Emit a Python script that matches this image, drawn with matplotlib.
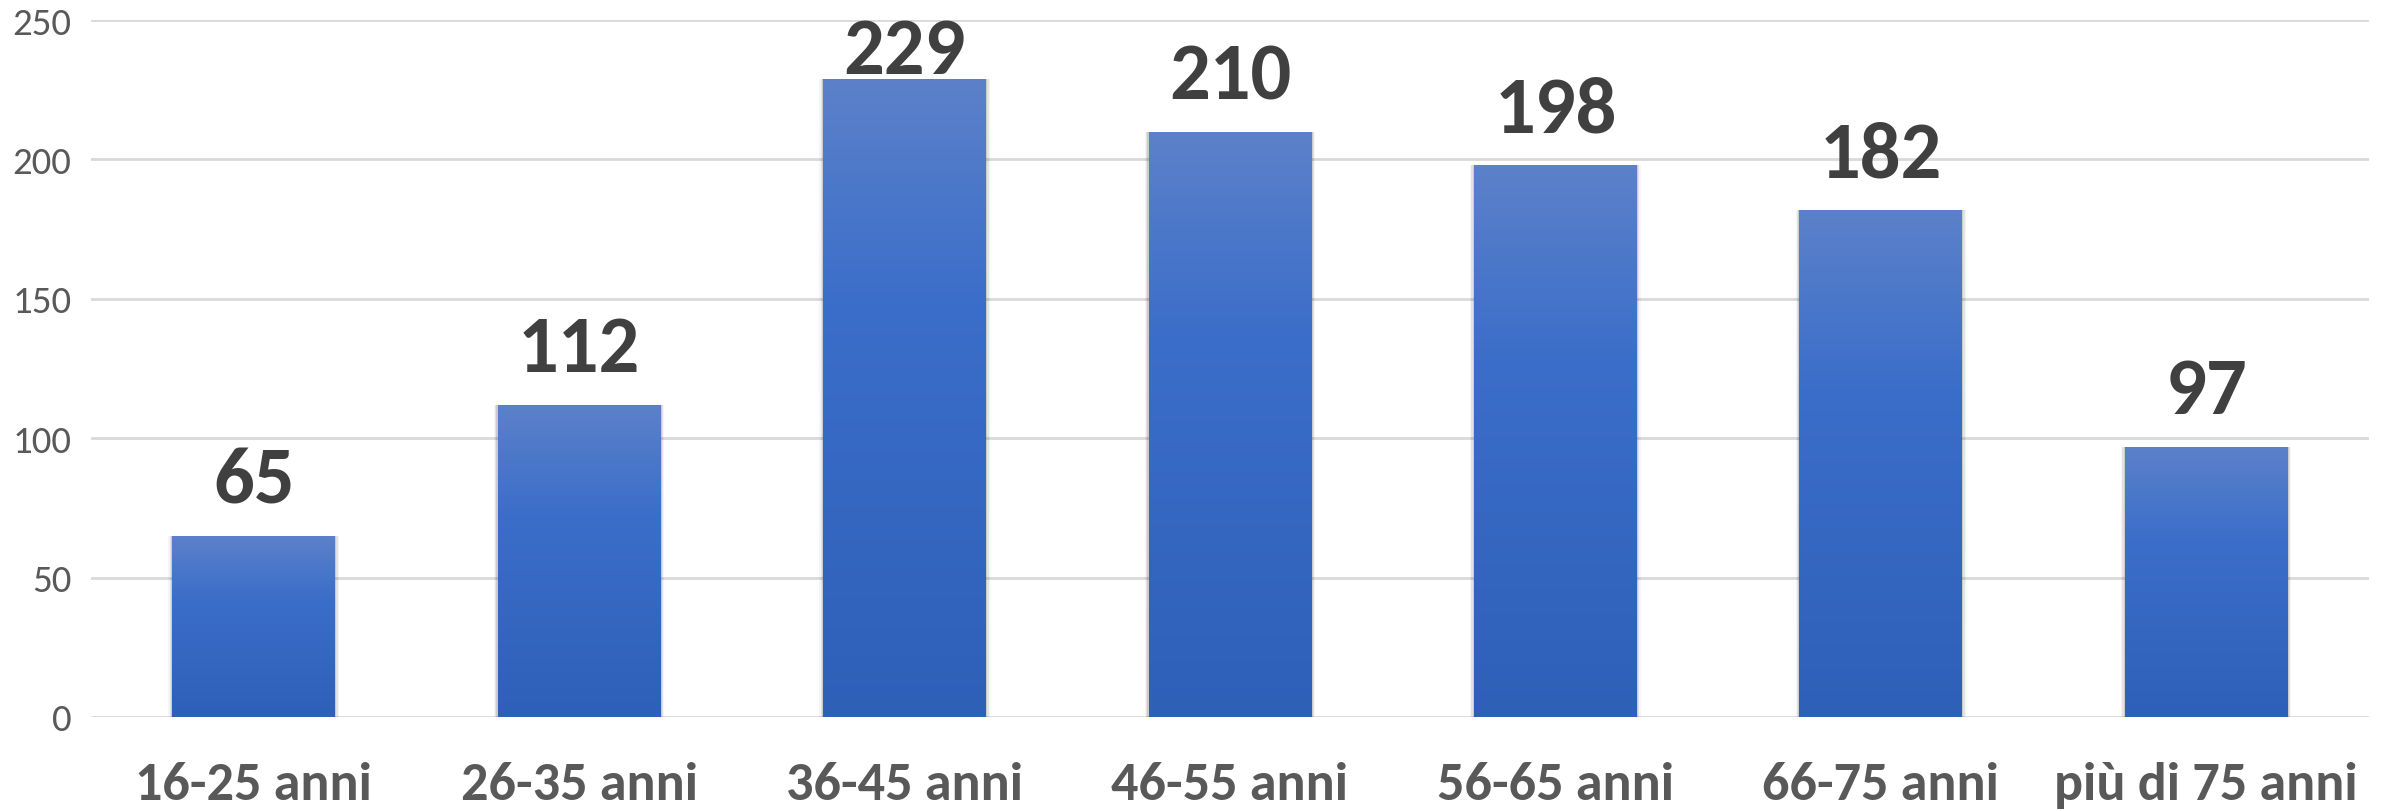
import numpy as np
import matplotlib
matplotlib.use('Agg')
import matplotlib.pyplot as plt
from matplotlib.patches import Rectangle
from matplotlib import font_manager

categories = ['16-25 anni', '26-35 anni', '36-45 anni', '46-55 anni',
              '56-65 anni', '66-75 anni', 'più di 75 anni']
values = [65, 112, 229, 210, 198, 182, 97]
yticks = [0, 50, 100, 150, 200, 250]

names = {f.name for f in font_manager.fontManager.ttflist}
FONT = [n for n in ['Carlito', 'Liberation Sans Narrow', 'DejaVu Sans'] if n in names]

GRID = '#d9d9d9'
TICK_C = '#595959'
LABEL_C = '#404040'
BAR_W = 0.5

fig = plt.figure(figsize=(23.89, 8.12), dpi=100)
ax = fig.add_axes([0.0381, 0.1158, 0.9535, 0.8583])
ax.set_xlim(-0.5, len(categories) - 0.5)
ax.set_ylim(0, 250)

# gradient fill per bar: light at top, deeper blue at bottom
grad = np.linspace(0, 1, 256)[:, None]
top = np.array([0x5c, 0x81, 0xc9]) / 255
mid = np.array([0x3b, 0x6e, 0xca]) / 255
bot = np.array([0x2e, 0x60, 0xb8]) / 255
cols = np.where(grad < 0.35,
                top + (mid - top) * (grad / 0.35),
                mid + (bot - mid) * ((grad - 0.35) / 0.65))
img = cols[:, None, :].repeat(2, axis=1)

for i, v in enumerate(values):
    x0 = i - BAR_W / 2
    # soft shadow
    for k, a in enumerate([0.10, 0.07, 0.04]):
        d = 0.004 * (k + 1)
        ax.add_patch(Rectangle((x0 - d, -0.8 * (k + 1)), BAR_W + 2 * d, v + 0.8 * (k + 1),
                               facecolor='#000000', alpha=a, edgecolor='none', zorder=2))
    rect = Rectangle((x0, 0), BAR_W, v, facecolor='none', edgecolor='none', zorder=3)
    ax.add_patch(rect)
    im = ax.imshow(img, extent=(x0, x0 + BAR_W, 0, v), aspect='auto',
                   origin='upper', zorder=3, interpolation='bilinear')
    im.set_clip_path(rect)
    ty = min(v + 12, 231)
    ax.text(i, ty, str(v), ha='center', va='baseline', fontsize=58,
            fontweight='bold', color=LABEL_C, family=FONT, zorder=5)

ax.set_yticks(yticks)
ax.set_yticklabels([str(t) for t in yticks], family=FONT, fontsize=28, color=TICK_C)
ax.set_xticks(range(len(categories)))
ax.set_xticklabels(categories, family=FONT, fontsize=39, fontweight='bold', color=TICK_C)
ax.tick_params(axis='both', length=0)
ax.tick_params(axis='y', pad=14)
ax.tick_params(axis='x', pad=32)
ax.grid(axis='y', color=GRID, linewidth=2, zorder=0)
ax.set_axisbelow(True)
for s in ax.spines.values():
    s.set_visible(False)

fig.savefig('out.png', dpi=100, facecolor='white')
